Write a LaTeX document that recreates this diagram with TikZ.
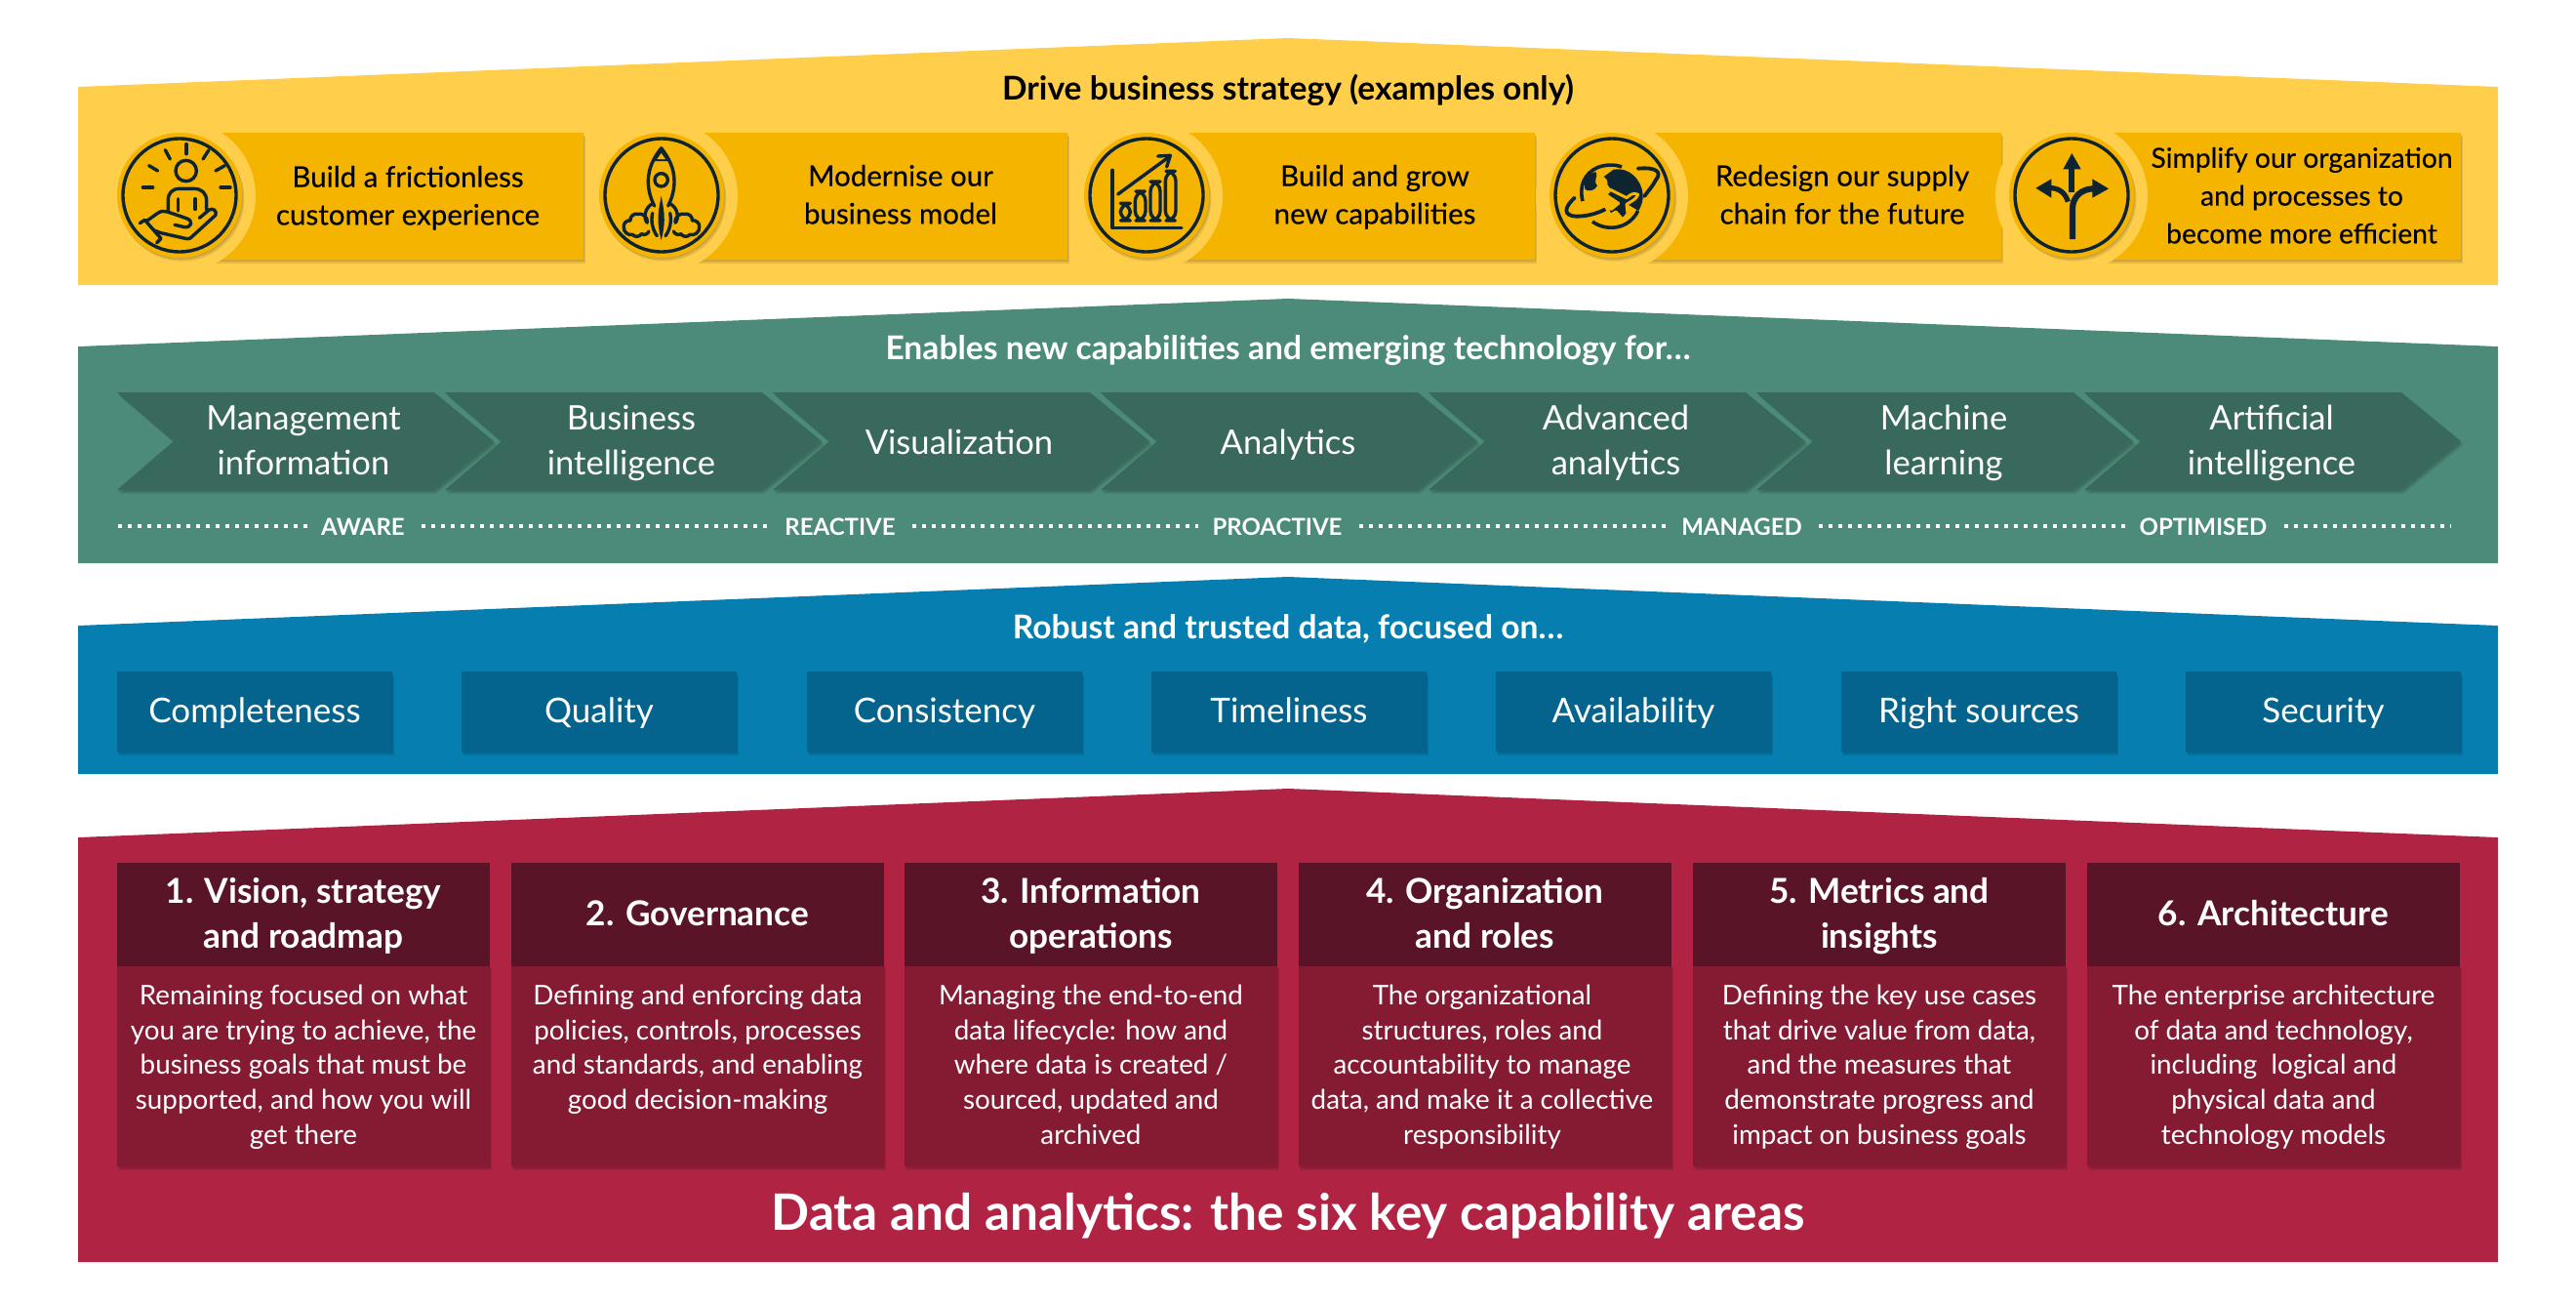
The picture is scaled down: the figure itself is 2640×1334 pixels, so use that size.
\documentclass[tikz,border=0pt]{standalone}
\usepackage{fontspec}
\setmainfont{Lato}
\newfontfamily\latomed[FakeBold=0.25]{Lato}
\usetikzlibrary{calc}
\definecolor{yband}{HTML}{FFCE4A}
\definecolor{ybox}{HTML}{F5B400}
\definecolor{ink}{HTML}{0E2430}
\definecolor{gband}{HTML}{4C8B79}
\definecolor{gbox}{HTML}{38695C}
\definecolor{bband}{HTML}{067FB0}
\definecolor{bbox}{HTML}{05648D}
\definecolor{rband}{HTML}{B02343}
\definecolor{rhead}{HTML}{5A1428}
\definecolor{rbody}{HTML}{851A33}
\newcommand{\fpx}[2]{\fontsize{#1}{#2}\selectfont}
\tikzset{
  struts/.style={execute at begin node=\strut,execute at end node=\strut},
  softshadow/.style={
    preaction={fill=black,fill opacity=.10,transform canvas={xshift=1.2pt,yshift=-1.8pt}},
    preaction={fill=black,fill opacity=.10,transform canvas={xshift=.6pt,yshift=-.9pt}}},
  bandtitle/.style={inner sep=0,align=center,struts,font=\fpx{16.8}{20}\bfseries},
  ytext/.style={inner sep=0,align=center,struts,text=black,font=\fpx{14.75}{19.4}\latomed},
  chevtext/.style={inner sep=0,align=center,struts,text=white,font=\fpx{17.3}{23}},
  stage/.style={inner sep=0,text=white,font=\fpx{12}{13}\bfseries},
  dots/.style={draw=white,line width=2pt,dash pattern=on 2pt off 3pt},
  bluebox/.style={inner sep=0,minimum width=141pt,minimum height=41pt,fill=bbox,text=white,softshadow},
  bluetext/.style={inner sep=0,struts,text=white,font=\fpx{17.5}{20}},
  headbox/.style={inner sep=0,minimum width=191pt,minimum height=53pt,fill=rhead},
  headtext/.style={inner sep=0,text=white,align=center,struts,font=\fpx{17.6}{23}\bfseries},
  bodybox/.style={fill=rbody,softshadow},
  bodytext/.style={inner sep=0,align=center,struts,text=white,font=\fpx{13.9}{17.8}},
  ring/.style={draw=ink,line width=1.7pt},
  ic/.style={draw=ink,line width=1.7pt,line cap=round,line join=round},
  crop/.style={shift={#1},x=.16667pt,y=-.16667pt},
}
\begin{document}
\begin{tikzpicture}[x=.5pt,y=-.5pt]
\useasboundingbox (0,0) rectangle (2640,1334);
% bands
\fill[yband] (80,89) -- (1320,39) -- (2560,89) -- (2560,292) -- (80,292) -- cycle;
\fill[gband] (80,355) -- (1320,306) -- (2560,355) -- (2560,577) -- (80,577) -- cycle;
\fill[bband] (80,641) -- (1320,591) -- (2560,641) -- (2560,793) -- (80,793) -- cycle;
\fill[rband] (80,858) -- (1320,808) -- (2560,858) -- (2560,1293) -- (80,1293) -- cycle;
\node[bandtitle,text=black] (t1) at (1320,94) {Drive business strategy (examples only)};
\node[bandtitle,text=white] (t2) at (1320,360) {Enables new capabilities and emerging technology for\dots};
\node[bandtitle,text=white] (t3) at (1320,646) {Robust and trusted data, focused on\dots};
\node[inner sep=0,text=white,font=\fpx{25.7}{30}\bfseries] (t4) at (1320,1246) {Data and analytics: the six key capability areas};
% yellow boxes + discs
\foreach \cx/\rx in {184/598,678/1094,1175/1573,1652/2051,2123/2522}{
  \path[fill=ybox,softshadow] (\cx,136) rectangle (\rx,266);
  \fill[yband] (\cx,201) circle[radius=78];
  \path[fill=ybox,softshadow] (\cx,200) circle[radius=64];
  \draw[ring] (\cx,200) circle[radius=58];
}
\node[ytext] (y1) at (418,206) {Build a frictionless\\customer experience};
\node[ytext] (y2) at (923,205) {Modernise our\\business model};
\node[ytext] (y3) at (1409,205) {Build and grow\\new capabilities};
\node[ytext] (y4) at (1888,205) {Redesign our supply\\chain for the future};
\node[ytext,font=\fpx{14.15}{19.4}\latomed] (y5) at (2359,206) {Simplify our organization\\and processes to\\become more efficient};
% icon 1
\begin{scope}[crop={(115,131)}]
 \foreach \a/\b/\c/\d in {228/50/228/80,163/68/178/96,113/116/140/132,94/183/125/183,333/183/363/183,318/132/346/116,279/96/297/68}
   \draw[ic] (\a,\b) -- (\c,\d);
 \draw[ic] (227,132) circle[radius=32];
 \draw[ic] (172,258) -- (172,222) .. controls (172,200) and (185,187) .. (207,187) -- (250,187) .. controls (275,187) and (290,200) .. (290,225) -- (290,252);
 \draw[ic] (202,218) -- (202,255) (255,218) -- (255,250);
 \draw[ic] (105,287) -- (140,262) .. controls (150,255) and (160,255) .. (170,258) -- (228,278) .. controls (250,285) and (245,307) .. (222,305) -- (192,298);
 \draw[ic] (128,315) -- (150,323) -- (225,340) .. controls (238,343) and (242,338) .. (250,330) -- (318,268) .. controls (322,255) and (310,245) .. (298,252) -- (268,277);
 \draw[ic] (85,293) -- (100,283) -- (150,340) -- (137,353);
\end{scope}
% icon 2
\begin{scope}[crop={(610,131)}]
 \draw[ic] (203,62) .. controls (178,95) and (163,125) .. (163,165) .. controls (163,195) and (172,220) .. (182,240) (203,62) .. controls (228,95) and (243,125) .. (243,165) .. controls (243,195) and (234,220) .. (224,240);
 \fill[ink] (203,58) -- (228,102) -- (178,102) -- cycle;
 \fill[ybox] (203,78) -- (216,96) -- (190,96) -- cycle;
 \draw[ic] (203,160) circle[radius=20];
 \fill[ink] (203,208) .. controls (210,250) and (220,280) .. (203,345) .. controls (186,280) and (196,250) .. (203,208) -- cycle;
 \draw[ic] (178,232) .. controls (150,245) and (148,280) .. (160,292) (176,262) .. controls (170,290) and (178,315) .. (190,332);
 \draw[ic] (228,232) .. controls (256,245) and (258,280) .. (246,292) (230,262) .. controls (236,290) and (228,315) .. (216,332);
 \draw[ic] (165,318) to[bend left=50] (142,326) to[bend left=60] (115,328) to[bend left=60] (88,305) to[bend left=60] (108,285) to[bend left=60] (130,265) to[bend left=60] (160,290);
 \draw[ic] (241,318) to[bend right=50] (264,326) to[bend right=60] (291,328) to[bend right=60] (320,305) to[bend right=60] (298,285) to[bend right=60] (276,265) to[bend right=60] (246,290);
\end{scope}
% icon 3
\begin{scope}[crop={(1105,131)}]
 \draw[ic] (105,130) -- (105,308) -- (318,308);
 \draw[ic,rounded corners=5pt] (130,232) rectangle (160,285);
 \draw[ic,rounded corners=5pt] (175,195) rectangle (207,285);
 \draw[ic,rounded corners=5pt] (222,165) rectangle (252,285);
 \draw[ic,rounded corners=5pt] (268,133) rectangle (300,285);
 \draw[ic] (122,204) -- (278,90);
 \draw[ic] (245,87) -- (283,85) -- (272,120);
\end{scope}
% icon 4
\begin{scope}[crop={(1582,131)}]
 \draw[ink,line width=1.8pt] (150,288) .. controls (190,318) and (260,315) .. (290,255);
 \draw[ink,line width=1.8pt] (120,225) .. controls (108,180) and (125,140) .. (165,122) .. controls (190,112) and (220,112) .. (240,120);
 \fill[ink] (128,190) .. controls (118,165) and (135,140) .. (160,135) .. controls (170,150) and (150,160) .. (165,178) .. controls (155,195) and (140,195) .. (128,190) -- cycle;
 \fill[ink] (185,150) -- (215,128) .. controls (260,120) and (300,155) .. (305,205) .. controls (306,225) and (300,240) .. (292,255) -- (250,230) -- (200,180) .. controls (190,170) and (205,165) .. (185,150) -- cycle;
 \draw[ink,line width=1.9pt,line cap=round] (95,215) .. controls (62,245) and (60,270) .. (100,272) .. controls (130,272) and (160,265) .. (190,250);
 \draw[ink,line width=1.9pt,line cap=round] (290,125) .. controls (345,120) and (365,135) .. (345,160) .. controls (335,180) and (320,195) .. (310,210);
 \path[fill=ink,draw=ybox,line width=1.5pt,line join=round] (290,205) .. controls (275,195) and (262,210) .. (255,215) -- (205,190) -- (190,205) -- (230,232) -- (208,250) -- (190,240) -- (205,268) -- (222,258) -- (243,282) -- (258,265) -- (255,235) .. controls (270,225) and (285,220) .. (290,205) -- cycle;
\end{scope}
% icon 5
\begin{scope}[crop={(2055,131)}]
 \draw[ink,line width=3.1pt] (207,342) -- (207,248) .. controls (207,212) and (235,187) .. (272,187);
 \fill[ink] (318,187) -- (268,157) -- (268,215) -- cycle;
 \draw[ink,line width=2.6pt] (193,227) .. controls (185,200) and (165,185) .. (140,185);
 \fill[ink] (94,185) -- (142,157) -- (142,215) -- cycle;
 \draw[ink,line width=2.9pt] (205,197) -- (205,122);
 \fill[ink] (205,78) -- (233,127) -- (178,127) -- cycle;
\end{scope}
% chevrons
\foreach \i in {0,...,6}{
  \pgfmathsetmacro{\xx}{120+336*\i}
  \path[fill=gbox,softshadow] (\xx,402) -- ++(325,0) -- ++(61,50) -- ++(-61,50) -- ++(-325,0) -- ++(58,-50) -- cycle;
}
\node[chevtext] (c1) at (311,458) {Management\\information};
\node[chevtext] (c2) at (647,458) {Business\\intelligence};
\node[chevtext] (c3) at (983,456) {Visualization};
\node[chevtext] (c4) at (1320,456) {Analytics};
\node[chevtext] (c5) at (1656,458) {Advanced\\analytics};
\node[chevtext] (c6) at (1992,458) {Machine\\learning};
\node[chevtext] (c7) at (2328,458) {Artificial\\intelligence};
% stage line
\node[stage] (s1) at (372,540) {AWARE};
\node[stage] (s2) at (861,540) {REACTIVE};
\node[stage] (s3) at (1309,540) {PROACTIVE};
\node[stage] (s4) at (1785,540) {MANAGED};
\node[stage] (s5) at (2258,540) {OPTIMISED};
\coordinate (d0) at (121,539);
\coordinate (d1) at (2512,539);
\draw[dots] (d0) -- ($(s1.west)+(-14,-1)$);
\draw[dots] ($(s1.east)+(17,-1)$) -- ($(s2.west)+(-14,-1)$);
\draw[dots] ($(s2.east)+(17,-1)$) -- ($(s3.west)+(-14,-1)$);
\draw[dots] ($(s3.east)+(17,-1)$) -- ($(s4.west)+(-14,-1)$);
\draw[dots] ($(s4.east)+(17,-1)$) -- ($(s5.west)+(-14,-1)$);
\draw[dots] ($(s5.east)+(17,-1)$) -- (d1);
% blue boxes
\foreach \n/\t/\x in {1/Completeness/261,2/Quality/614,3/Consistency/968,4/Timeliness/1321,5/Availability/1674,6/Right sources/2028,7/Security/2381}{
  \node[bluebox] (b\n) at (\x,729) {};
  \node[bluetext] (bt\n) at (\x,732) {\t};
}
% red columns
\foreach \n/\x in {1/311,2/715,3/1118,4/1522,5/1926,6/2330}{
  \path[bodybox] (\x-191,988) rectangle (\x+191,1195);
  \node[headbox] (h\n) at (\x,937) {};
}
\node[headtext] (ht1) at (311,942) {1. Vision, strategy\\and roadmap};
\node[headtext] (ht2) at (715,939) {2. Governance};
\node[headtext] (ht3) at (1118,942) {3. Information\\operations};
\node[headtext] (ht4) at (1522,942) {4. Organization\\and roles};
\node[headtext] (ht5) at (1926,942) {5. Metrics and\\insights};
\node[headtext] (ht6) at (2330,939) {6. Architecture};
\node[bodytext] (r1) at (311,1096) {Remaining focused on what\\you are trying to achieve, the\\business goals that must be\\supported, and how you will\\get there};
\node[bodytext] (r2) at (715,1078) {Defining and enforcing data\\policies, controls, processes\\and standards, and enabling\\good decision-making};
\node[bodytext] (r3) at (1118,1096) {Managing the end-to-end\\data lifecycle: how and\\where data is created /\\sourced, updated and\\archived};
\node[bodytext] (r4) at (1519,1096) {The organizational\\structures, roles and\\accountability to manage\\data, and make it a collective\\responsibility};
\node[bodytext] (r5) at (1926,1096) {Defining the key use cases\\that drive value from data,\\and the measures that\\demonstrate progress and\\impact on business goals};
\node[bodytext] (r6) at (2330,1096) {The enterprise architecture\\of data and technology,\\including\ \ logical and\\physical data and\\technology models};
\end{tikzpicture}
\end{document}
